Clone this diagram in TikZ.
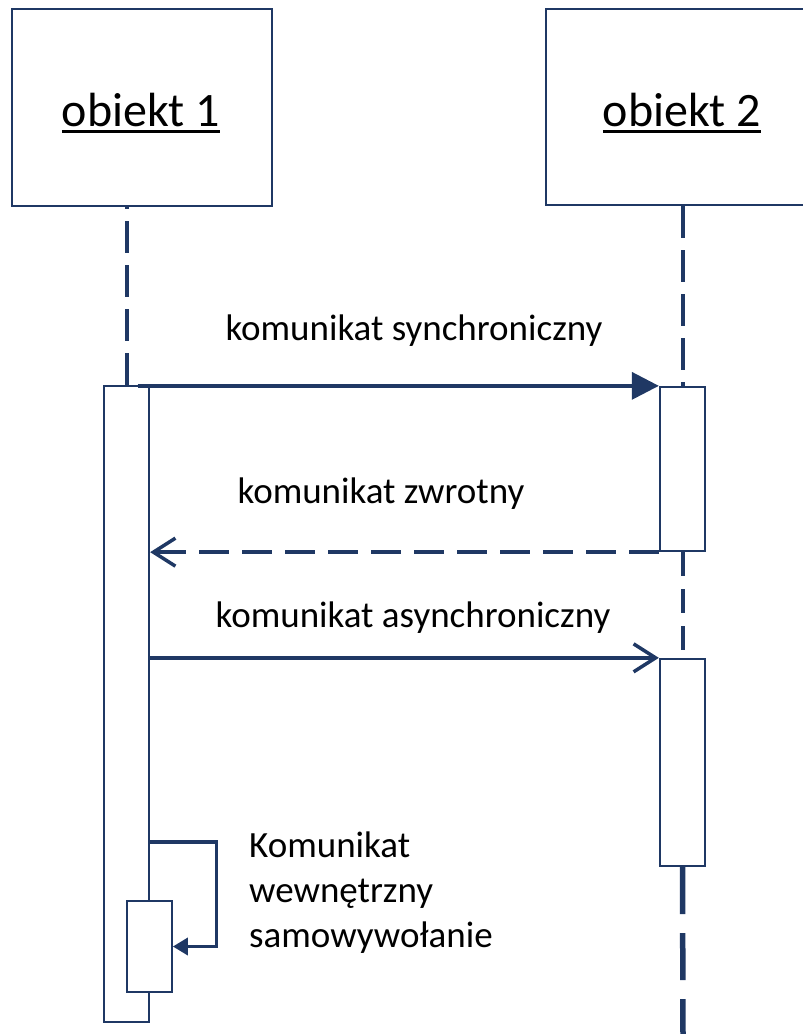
\documentclass[tikz,border=0pt]{standalone}
\usepackage{fontspec}
\setmainfont{Carlito}
\usetikzlibrary{arrows.meta}
\definecolor{navy}{HTML}{1F3864}
% underlined object name with a heavy rule
\newcommand{\objname}[1]{\setbox0\hbox{#1}\rlap{\rule[-7pt]{\wd0}{2.6pt}}\box0}
\begin{document}
\begin{tikzpicture}[x=1pt,y=-1pt,
  objbox/.style={draw=navy, line width=2.5pt, fill=white, inner sep=0pt, rectangle},
  actbox/.style={draw=navy, line width=2.3pt, fill=white, inner sep=0pt, rectangle, minimum width=45pt},
  life/.style={draw=navy, line width=4pt, dash pattern=on 32pt off 12pt},
  msg/.style={draw=navy, line width=3.5pt},
  lbl/.style={font=\fontsize{37}{45}\selectfont, inner sep=0pt, anchor=base},
  objlbl/.style={font=\fontsize{48}{58}\selectfont, inner sep=0pt, anchor=base}]
\useasboundingbox (0,0) rectangle (803,1034);

% object boxes
\node[objbox, minimum width=260pt, minimum height=197pt] (o1) at (142,107.5) {};
\node[objbox, minimum width=274pt, minimum height=196pt] (o2) at (683,107) {};
\node[objlbl] (t1) at (141,126) {\objname{obiekt 1}};
\node[objlbl] (t2) at (682,126) {\objname{obiekt 2}};

% activation bars
\node[actbox, minimum height=636pt] (a1) at (126.5,704) {};
\node[actbox, minimum height=164pt] (a2) at (682.5,469) {};
\node[actbox, minimum height=207pt] (a2b) at (682.5,762.5) {};
\node[actbox, minimum height=91pt] (a3) at (149.2,946.5) {};
\coordinate (end2) at (683,1034);

% lifelines
\draw[life] (a1.north) -- (a1.north |- o1.south);
\draw[life] (a2.north |- o2.south) -- (a2.north);
\draw[draw=navy, line width=4pt, dash pattern=on 24pt off 13pt] (a2.south) -- (a2b.north);
\draw[draw=navy, line width=5.5pt, dash pattern=on 47pt off 19pt] (a2b.south) -- (end2);

% messages
\draw[msg, -{Triangle[length=27pt, width=27pt]}] ([xshift=11pt]a1.north |- a2.north west) -- (a2.north west);
\draw[msg, dash pattern=on 30pt off 13pt, -{Straight Barb[length=22pt, width=28pt]}]
  (a2.south west) -- (a1.east |- a2.south west);
\draw[msg, -{Straight Barb[length=22pt, width=28pt]}] (a1.east |- a2b.north west) -- (a2b.north west);
\draw[msg, -{Triangle[length=15pt, width=17pt]}] (a1.east |- 0,842) -- (216.5,842) |- (a3.east);

% labels
\node[lbl] (m1) at (414,340) {komunikat synchroniczny};
\node[lbl] (m2) at (381,503) {komunikat zwrotny};
\node[lbl] (m3) at (413,627) {komunikat asynchroniczny};
\node[lbl, anchor=base west] (s1) at (249,857) {Komunikat};
\node[lbl, anchor=base west] (s2) at (249,902) {wewnętrzny};
\node[lbl, anchor=base west] (s3) at (249,947) {samowywołanie};
\end{tikzpicture}
\end{document}
